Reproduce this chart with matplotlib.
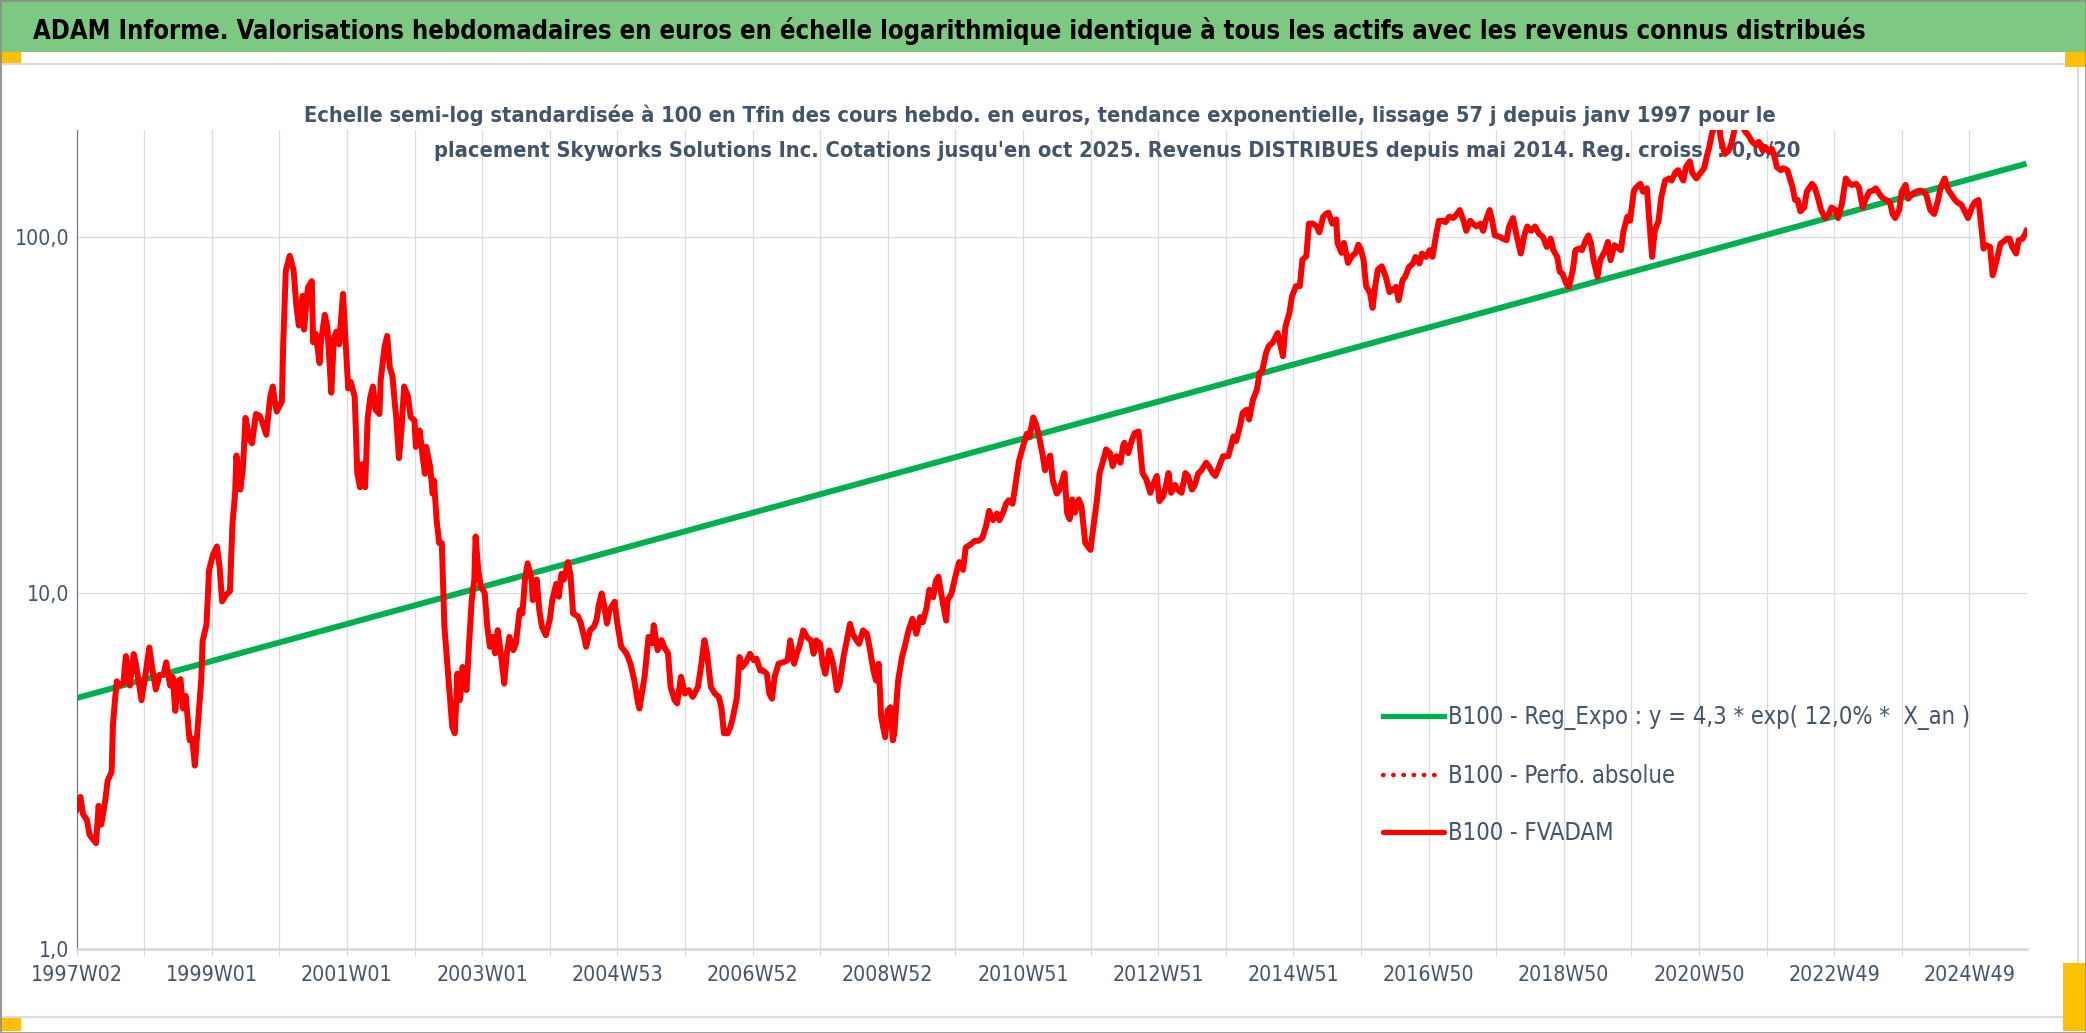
import matplotlib
matplotlib.use("Agg")
import matplotlib.pyplot as plt
from matplotlib import font_manager
from matplotlib.font_manager import FontProperties
from matplotlib.lines import Line2D
from matplotlib.patches import Rectangle
from matplotlib.ticker import FixedLocator, FixedFormatter, MultipleLocator, NullLocator

# ---------------- texts ----------------
title = ("ADAM Informe. Valorisations hebdomadaires en euros en échelle logarithmique "
         "identique à tous les actifs avec les revenus connus distribués")
subtitle_1 = ("Echelle semi-log standardisée à 100 en Tfin des cours hebdo. en euros, tendance "
              "exponentielle, lissage 57 j depuis janv 1997 pour le")
subtitle_2 = ("placement Skyworks Solutions Inc. Cotations jusqu'en oct 2025. Revenus DISTRIBUES "
              "depuis mai 2014. Reg. croiss. : 0,0/20")

x_labels = ["1997W02", "1999W01", "2001W01", "2003W01", "2004W53", "2006W52", "2008W52",
            "2010W51", "2012W51", "2014W51", "2016W50", "2018W50", "2020W50", "2022W49",
            "2024W49"]
y_ticks = [1, 10, 100]
y_labels = ["1,0", "10,0", "100,0"]
legend_labels = ["B100 - Reg_Expo : y = 4,3 * exp( 12,0% *  X_an )",
                 "B100 - Perfo. absolue",
                 "B100 - FVADAM"]

# ---------------- data (week index since 1997W02, value base 100) ----------------
last_week = 1500

trend_weeks = [0, 1500]
trend_vals = [5.06, 160.7]

# 1997 - 2001
fv_weeks_1 = [0, 3, 5, 8, 10, 15, 17, 19, 22, 24, 27, 28, 29, 31, 33, 36, 38, 41, 44, 46,
              47, 50, 53, 56, 58, 61, 64, 67, 69, 72, 74, 76, 78, 80, 82, 84, 87, 89, 91, 94,
              96, 97, 100, 102, 105, 108, 110, 112, 115, 118, 120, 122, 123, 126, 128, 130,
              133, 135, 138, 141, 143, 146, 149, 151, 152, 154, 158, 159, 161, 164, 167, 169,
              171, 174, 175, 178, 181, 182, 184, 187, 188, 191, 193, 196, 198, 200, 202, 205,
              207, 209, 211, 214, 216, 218, 220, 222, 224, 226, 228, 230, 233, 234, 237, 239,
              241, 243, 245, 246, 248, 250, 252]
fv_vals_1 = [2.46, 2.67, 2.39, 2.30, 2.09, 1.98, 2.52, 2.23, 2.59, 2.97, 3.14, 4.24, 4.73,
             5.64, 5.49, 5.57, 6.64, 5.49, 6.73, 6.21, 5.88, 4.99, 5.88, 7.02, 6.21, 5.35,
             5.88, 5.88, 6.38, 5.49, 5.80, 4.66, 5.64, 5.72, 4.73, 5.13, 3.85, 3.90, 3.27,
             4.60, 5.72, 7.31, 8.15, 11.6, 12.8, 13.5, 11.9, 9.46, 9.86, 10.1, 15.7, 19.0,
             24.3, 19.5, 22.4, 31.0, 27.0, 26.3, 31.8, 31.4, 30.1, 27.8, 35.5, 38.0, 35.5,
             32.3, 34.5, 49.9, 80.4, 88.5, 80.4, 64.7, 56.4, 68.3, 54.9, 72.1, 75.1, 50.6,
             53.4, 44.2, 50.6, 60.4, 55.7, 36.5, 52.0, 54.2, 49.9, 69.2, 50.6, 37.5, 39.1,
             35.5, 21.7, 19.8, 23.0, 19.8, 31.0, 35.5, 38.0, 32.7, 31.8, 39.6, 49.2, 52.7,
             43.0, 40.7, 33.6, 31.0, 23.9, 28.6, 38.0]

# 2001 - 2006
fv_weeks_2 = [255, 257, 260, 261, 264, 266, 268, 269, 272, 274, 275, 277, 279, 281, 283, 287,
              289, 291, 293, 295, 297, 298, 300, 302, 304, 306, 307, 309, 311, 314, 316, 318,
              320, 322, 324, 327, 329, 331, 333, 336, 338, 341, 343, 345, 347, 350, 351, 354,
              356, 358, 361, 364, 366, 369, 371, 373, 375, 378, 380, 382, 386, 388, 391, 392,
              395, 398, 400, 402, 404, 406, 408, 410, 414, 416, 419, 423, 426, 429, 432, 433,
              437, 440, 443, 444, 447, 450, 452, 455, 457, 460, 462, 465, 468, 471, 474, 478,
              480, 483, 485, 488, 491, 494, 496, 498, 501, 503]
fv_vals_2 = [35.6, 31.2, 30.5, 25.7, 28.6, 24.6, 21.6, 25.7, 22.6, 19.0, 20.7, 16.0, 13.8,
             13.8, 8.03, 5.21, 4.20, 4.03, 5.93, 5.00, 6.19, 5.81, 5.33, 7.21, 9.54, 10.9,
             14.4, 11.6, 10.4, 10.0, 8.03, 7.05, 7.52, 6.76, 7.85, 6.47, 5.56, 6.76, 7.52,
             6.90, 7.21, 8.94, 8.75, 10.9, 12.1, 10.9, 9.54, 10.9, 8.94, 8.03, 7.60, 8.38,
             9.54, 10.6, 9.75, 11.3, 10.9, 12.2, 11.2, 8.75, 8.57, 8.20, 7.36, 7.05, 7.85,
             8.03, 8.38, 9.33, 9.96, 9.14, 8.20, 8.94, 9.44, 8.20, 7.05, 6.76, 6.34, 5.69,
             4.89, 4.73, 5.81, 7.52, 7.21, 8.11, 6.90, 7.36, 7.05, 6.76, 5.44, 5.00, 4.89,
             5.81, 5.21, 5.33, 5.10, 5.44, 6.06, 7.36, 6.76, 5.44, 5.21, 5.10, 4.78, 4.03,
             4.03, 4.20]

# 2006 - 2011
fv_weeks_3 = [505, 508, 510, 512, 515, 518, 521, 523, 526, 528, 531, 533, 535, 537, 540, 544,
              547, 549, 552, 554, 556, 559, 562, 565, 567, 569, 572, 574, 576, 579, 582, 585,
              587, 590, 592, 595, 597, 600, 602, 605, 608, 610, 613, 615, 617, 619, 622, 624,
              626, 628, 629, 632, 635, 637, 640, 643, 646, 649, 651, 654, 656, 659, 661, 663,
              667, 669, 670, 673, 676, 679, 682, 684, 688, 691, 694, 697, 700, 702, 705, 708,
              710, 713, 715, 717, 720, 722, 725, 728, 731, 733, 736, 738, 740, 741, 743, 745,
              747, 749, 751, 754, 756]
fv_vals_3 = [4.48, 5.09, 6.60, 6.18, 6.39, 6.74, 6.46, 6.53, 6.05, 6.05, 5.92, 5.20, 5.04,
             5.80, 6.32, 6.39, 6.46, 7.35, 6.32, 6.74, 7.04, 7.84, 7.50, 7.35, 6.74, 7.35,
             7.19, 6.32, 5.92, 6.89, 6.32, 5.32, 5.55, 6.60, 7.19, 8.18, 7.67, 7.35, 7.19,
             7.84, 7.67, 7.04, 6.05, 5.67, 6.32, 4.48, 3.93, 4.67, 4.77, 3.85, 4.02, 5.67,
             6.60, 7.04, 7.84, 8.45, 7.67, 8.55, 8.27, 9.12, 10.2, 9.72, 10.8, 11.1, 9.12,
             8.36, 9.52, 9.94, 11.1, 12.2, 11.6, 13.4, 13.7, 14.0, 14.0, 14.3, 15.6, 17.0,
             16.0, 16.7, 16.0, 16.9, 17.8, 18.2, 17.8, 19.8, 23.5, 25.7, 28.0, 27.4, 31.1,
             29.8, 28.0, 26.8, 24.6, 22.1, 23.5, 24.3, 20.7, 19.0, 19.4]

# 2011 - 2016
fv_weeks_4 = [760, 762, 764, 766, 768, 771, 773, 776, 778, 780, 782, 785, 787, 790, 792, 795,
              797, 800, 803, 805, 806, 809, 812, 814, 817, 820, 823, 826, 828, 831, 833, 836,
              838, 840, 842, 845, 847, 850, 853, 855, 858, 860, 863, 865, 869, 871, 874, 876,
              879, 882, 886, 888, 890, 892, 895, 897, 900, 902, 905, 908, 910, 912, 915, 917,
              920, 924, 928, 930, 933, 935, 938, 941, 943, 946, 948, 951, 954, 956, 959, 961,
              963, 966, 969, 970, 973, 975, 978, 981, 984, 986, 988, 990, 992, 995, 997, 999,
              1001, 1004, 1007]
fv_vals_4 = [21.7, 16.8, 16.1, 18.3, 16.8, 18.3, 17.5, 13.8, 13.5, 13.2, 15.1, 18.3, 21.7,
             23.7, 25.3, 24.7, 22.7, 24.2, 23.2, 25.8, 26.4, 24.7, 27.0, 28.1, 28.4, 21.7,
             20.8, 19.1, 20.1, 21.3, 18.1, 18.7, 20.0, 21.7, 19.1, 20.1, 19.5, 19.1, 21.7,
             21.3, 19.5, 20.0, 21.7, 22.0, 23.2, 22.7, 21.7, 21.3, 22.7, 24.2, 24.2, 25.8,
             27.5, 26.7, 29.4, 32.0, 32.7, 30.7, 34.9, 37.2, 41.5, 41.9, 47.2, 49.3, 50.4,
             53.7, 46.2, 56.1, 61.2, 68.1, 72.7, 72.7, 86.3, 88.3, 109, 109, 107, 103, 114,
             116, 117, 109, 112, 96.2, 90.2, 96.2, 84.5, 88.3, 90.2, 95.1, 92.1, 86.3, 72.7,
             69.6, 63.2, 72.7, 80.9, 82.7, 77.6]

# 2016 - 2021
fv_weeks_5 = [1010, 1012, 1015, 1017, 1020, 1022, 1025, 1028, 1030, 1033, 1035, 1038, 1041,
              1043, 1046, 1048, 1051, 1053, 1056, 1059, 1061, 1064, 1067, 1069, 1072, 1074,
              1077, 1080, 1082, 1084, 1087, 1089, 1091, 1095, 1097, 1100, 1102, 1105, 1108,
              1111, 1114, 1116, 1119, 1122, 1125, 1128, 1131, 1134, 1136, 1139, 1141, 1143,
              1146, 1148, 1151, 1153, 1156, 1158, 1161, 1163, 1165, 1167, 1170, 1172, 1176,
              1178, 1180, 1183, 1185, 1188, 1190, 1193, 1195, 1198, 1200, 1203, 1205, 1208,
              1210, 1212, 1214, 1217, 1219, 1222, 1225, 1227, 1230, 1232, 1236, 1238, 1241,
              1243, 1246, 1249, 1252, 1254, 1256, 1258, 1260]
fv_vals_5 = [70.0, 70.8, 72.4, 66.4, 75.6, 77.2, 82.3, 84.2, 87.9, 84.2, 89.8, 87.9, 91.8,
             87.9, 102, 111, 111, 110, 114, 113, 115, 119, 111, 104, 111, 109, 107, 109, 104,
             111, 119, 111, 101, 100, 98.9, 97.9, 107, 113, 100, 89.8, 102, 107, 104, 107,
             102, 100, 93.7, 98.9, 91.8, 87.9, 79.8, 78.9, 73.9, 72.4, 80.6, 91.8, 92.8,
             91.8, 97.9, 101, 95.8, 86.0, 77.2, 86.0, 91.8, 96.8, 86.0, 94.8, 93.7, 91.8,
             104, 114, 111, 135, 138, 141, 134, 137, 109, 87.9, 104, 111, 129, 144, 146, 144,
             152, 154, 144, 157, 163, 151, 146, 151, 156, 168, 179, 195, 205]

# 2021 - oct 2025
fv_weeks_6 = [1263, 1265, 1268, 1271, 1273, 1276, 1279, 1281, 1284, 1286, 1289, 1292, 1294,
              1297, 1299, 1302, 1304, 1306, 1308, 1311, 1313, 1316, 1318, 1320, 1322, 1324,
              1326, 1329, 1331, 1335, 1337, 1340, 1342, 1345, 1348, 1350, 1353, 1355, 1358,
              1361, 1364, 1366, 1369, 1371, 1374, 1376, 1379, 1382, 1384, 1387, 1389, 1392,
              1395, 1397, 1399, 1402, 1404, 1407, 1409, 1412, 1415, 1418, 1421, 1423, 1426,
              1429, 1432, 1434, 1437, 1440, 1442, 1445, 1447, 1450, 1452, 1455, 1458, 1460,
              1463, 1465, 1467, 1469, 1472, 1474, 1477, 1480, 1482, 1485, 1487, 1489, 1492,
              1494, 1497, 1499, 1500]
fv_vals_6 = [210, 187, 171, 175, 183, 205, 210, 205, 197, 193, 185, 181, 185, 175, 179, 173,
             177, 169, 157, 154, 156, 154, 146, 138, 127, 127, 118, 121, 134, 141, 138, 127,
             119, 113, 116, 121, 119, 113, 124, 146, 141, 140, 141, 138, 121, 127, 134, 135,
             137, 132, 129, 127, 125, 116, 113, 119, 134, 140, 128, 132, 134, 135, 134, 131,
             119, 116, 127, 138, 146, 135, 132, 127, 125, 123, 119, 113, 121, 125, 127, 109,
             92.7, 94.8, 93.7, 78.0, 85.9, 95.8, 96.8, 98.9, 98.9, 93.7, 89.8, 97.9, 98.9,
             102, 104]

fv_weeks = fv_weeks_1 + fv_weeks_2 + fv_weeks_3 + fv_weeks_4 + fv_weeks_5 + fv_weeks_6
fv_vals = fv_vals_1 + fv_vals_2 + fv_vals_3 + fv_vals_4 + fv_vals_5 + fv_vals_6

# ---------------- style ----------------
GREEN = "#00B050"
RED = "#FF0000"
SLATE = "#44546A"
GRID = "#D9DDE3"
W, H = 2086, 1033

names = {f.name for f in font_manager.fontManager.ttflist}
if "Liberation Sans Narrow" in names:
    FAMILY, STRETCH = "Liberation Sans Narrow", "normal"
elif "DejaVu Sans Condensed" in names:
    FAMILY, STRETCH = "DejaVu Sans Condensed", "condensed"
else:
    FAMILY, STRETCH = "DejaVu Sans", "condensed"
plt.rcParams["font.family"] = [FAMILY, "DejaVu Sans"]
plt.rcParams["font.stretch"] = STRETCH

fig = plt.figure(figsize=(W / 100, H / 100), dpi=100)
renderer = fig.canvas.get_renderer()


def fit_size(text, width_px, weight="normal"):
    # font size (pt) giving the text roughly the wanted width in pixels
    fp = FontProperties(family=[FAMILY, "DejaVu Sans"], stretch=STRETCH, weight=weight, size=20)
    w, _, _ = renderer.get_text_width_height_descent(text, fp, ismath=False)
    return 20 * width_px / w


def px_rect(x0, y0, x1, y1, **kw):
    # rectangle given in picture pixels, counted from the top left corner
    return Rectangle((x0 / W, 1 - y1 / H), (x1 - x0) / W, (y1 - y0) / H,
                     transform=fig.transFigure, **kw)


# frame, title bar, handles
fig.patches.append(px_rect(0, 0, W, 52, facecolor="#7DC981", edgecolor="none", zorder=-2))
fig.patches.append(px_rect(1, 64, 2078, 1017, facecolor="none", edgecolor="#D9DCE0",
                           linewidth=1.6, zorder=-1))
fig.patches.append(px_rect(0.5, 0.5, W - 0.5, H - 0.5, facecolor="none", edgecolor="#8C8C8C",
                           linewidth=1.2, zorder=5))
for box in [(0, 52, 21, 63), (2065, 52, W, 67), (0, 1018, 21, 1031), (2063, 963, W, 1031)]:
    fig.patches.append(px_rect(*box, facecolor="#FFC000", edgecolor="none", zorder=4))

ax = fig.add_axes([76.5 / W, 1 - 948.7 / H, 1950 / W, 818.9 / H])
ax.set_yscale("log")
ax.set_xlim(0, last_week)
ax.set_ylim(1, 200)

ax.plot(trend_weeks, trend_vals, color=GREEN, lw=4.3, solid_capstyle="butt", zorder=3)
ax.plot(fv_weeks, fv_vals, color=RED, lw=4.3, solid_joinstyle="round", zorder=4)

# axes and grid
ax.set_axisbelow(True)
for side in ["top", "right"]:
    ax.spines[side].set_visible(False)
ax.spines["left"].set_color("#4472C4")
ax.spines["left"].set_linewidth(0.8)
ax.spines["bottom"].set_color("#D5D9DF")
ax.spines["bottom"].set_linewidth(1.9)

tick_fs = fit_size(x_labels[0], 92)
ax.xaxis.set_major_locator(FixedLocator([i * 104 for i in range(len(x_labels))]))
ax.xaxis.set_major_formatter(FixedFormatter(x_labels))
ax.xaxis.set_minor_locator(MultipleLocator(52))
ax.tick_params(axis="x", which="both", direction="out", length=5, width=0.8, color="#D5D9DF",
               pad=7, labelsize=tick_fs, labelcolor=SLATE)
ax.yaxis.set_major_locator(FixedLocator(y_ticks))
ax.yaxis.set_major_formatter(FixedFormatter(y_labels))
ax.yaxis.set_minor_locator(NullLocator())
ax.tick_params(axis="y", which="both", length=0, pad=5, labelsize=tick_fs, labelcolor=SLATE)
ax.grid(axis="x", which="both", color=GRID, lw=0.9)
ax.grid(axis="y", which="major", color=GRID, lw=0.9)

# titles
fig.text(33 / W, 1 - 39 / H, title, ha="left", va="baseline",
         fontsize=fit_size(title, 1839, "bold"), fontweight="bold", color="black", zorder=6)
sub_fs = fit_size(subtitle_1, 1473, "bold")
ax.text(1040 / W, 1 - 122 / H, subtitle_1, transform=fig.transFigure, ha="center",
        va="baseline", fontsize=sub_fs, fontweight="bold", color=SLATE, clip_on=False,
        zorder=1)
ax.text(434 / W, 1 - 157 / H, subtitle_2, transform=fig.transFigure, ha="left",
        va="baseline", fontsize=sub_fs, fontweight="bold", color=SLATE, clip_on=False,
        zorder=1)

# legend
leg_fs = fit_size(legend_labels[0], 522)
fs_px = leg_fs * 100 / 72
fp_leg = FontProperties(family=[FAMILY, "DejaVu Sans"], stretch=STRETCH, size=leg_fs)
_, text_h, _ = renderer.get_text_width_height_descent("lp", fp_leg, ismath=False)
handles = [
    Line2D([], [], color=GREEN, lw=3.8),
    Line2D([], [], color=RED, lw=3.2, linestyle=(0, (0.1, 2.2)), dash_capstyle="round"),
    Line2D([], [], color=RED, lw=3.8, solid_capstyle="round"),
]
ax.legend(handles, legend_labels, loc="center left", bbox_to_anchor=(1383 / W, 1 - 775.5 / H),
          bbox_transform=fig.transFigure, frameon=False, borderpad=0, borderaxespad=0,
          handlelength=61 / fs_px, handletextpad=4 / fs_px,
          labelspacing=(57.5 - text_h) / fs_px, prop=fp_leg, labelcolor=SLATE)

fig.savefig("out.png", dpi=100)
